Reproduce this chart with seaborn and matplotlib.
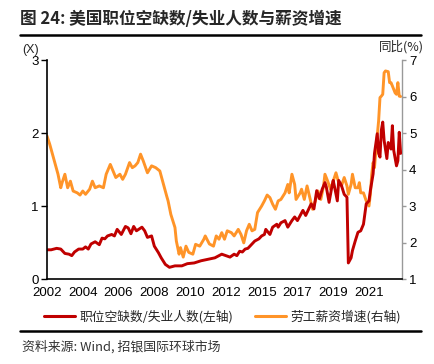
import numpy as np
import pandas as pd
import matplotlib
matplotlib.use('Agg')
import matplotlib.pyplot as plt
import seaborn as sns
from matplotlib.lines import Line2D

sns.set_style('white')
plt.rcParams['font.family'] = ['Liberation Sans', 'Noto Sans CJK SC', 'DejaVu Sans']

# months counted from Jan 2002
red_month = [0, 3, 7, 10, 13, 16, 18, 20, 23, 26, 28, 30, 32, 35, 38, 40, 42, 44, 47, 49,
             51, 54, 57, 59, 61, 63, 65, 69, 71, 73, 76, 78, 81, 83, 86, 89, 93, 98, 102, 107,
             112, 117, 122, 127, 130, 133, 136, 138, 140, 142, 144, 146, 149, 151, 154, 156, 158, 159, 162, 164,
             167, 168, 170, 173, 175, 178, 180, 182, 184, 186, 188, 192, 194, 196, 198, 200, 202, 203, 205, 207,
             208, 209, 211, 212, 214, 216, 218, 219, 221, 222, 224, 226, 228, 230, 231, 232, 234, 235, 237, 238,
             240, 241, 242, 243, 244, 245, 247, 248, 250, 251, 252, 254, 255, 256, 257]
red_value = [0.40, 0.40, 0.42, 0.41, 0.35, 0.34, 0.32, 0.37, 0.41, 0.41, 0.44, 0.41, 0.48, 0.51, 0.47, 0.56, 0.55, 0.59, 0.61, 0.59,
             0.68, 0.61, 0.72, 0.70, 0.62, 0.72, 0.66, 0.71, 0.66, 0.57, 0.59, 0.45, 0.36, 0.29, 0.20, 0.16, 0.18, 0.18, 0.21, 0.22,
             0.25, 0.27, 0.29, 0.34, 0.32, 0.30, 0.34, 0.32, 0.38, 0.37, 0.41, 0.42, 0.48, 0.52, 0.55, 0.59, 0.61, 0.68, 0.61, 0.71,
             0.75, 0.71, 0.77, 0.80, 0.71, 0.80, 0.85, 0.80, 0.87, 0.94, 0.87, 1.03, 0.96, 1.21, 1.10, 1.23, 1.32, 1.26, 1.05, 1.26,
             1.35, 1.26, 1.07, 1.35, 1.28, 1.16, 1.12, 0.22, 0.29, 0.39, 0.52, 0.64, 0.66, 0.75, 0.89, 1.03, 1.07, 1.21, 1.44, 1.72,
             1.99, 1.72, 1.67, 2.04, 2.15, 1.90, 1.65, 1.87, 1.78, 2.10, 1.76, 1.55, 1.62, 2.01, 1.72]

wage_month = [0, 2, 4, 6, 8, 10, 11, 13, 15, 17, 19, 22, 24, 26, 28, 31, 33, 35, 38, 41,
              43, 46, 48, 50, 53, 55, 57, 60, 62, 64, 66, 68, 70, 73, 76, 79, 82, 84, 87, 88,
              90, 93, 94, 96, 97, 99, 101, 103, 106, 108, 111, 114, 115, 118, 121, 123, 125, 127, 129, 131,
              134, 136, 139, 141, 143, 145, 147, 149, 151, 153, 156, 158, 160, 162, 164, 166, 168, 170, 173, 175,
              176, 178, 180, 181, 184, 185, 187, 189, 191, 193, 195, 197, 199, 201, 202, 204, 206, 208, 210, 212,
              214, 216, 218, 219, 221, 222, 224, 226, 227, 228, 230, 232, 234, 235, 236, 237, 238, 239, 241, 242,
              243, 244, 245, 246, 248, 249, 250, 251, 253, 254, 255, 256, 257]
wage_value = [4.92, 4.69, 4.42, 4.14, 3.87, 3.50, 3.64, 3.87, 3.50, 3.68, 3.41, 3.36, 3.30, 3.41, 3.32, 3.46, 3.68, 3.50, 3.55, 3.50,
              3.87, 4.14, 3.96, 3.78, 3.87, 3.73, 3.87, 4.19, 4.05, 4.10, 4.19, 4.42, 4.23, 3.91, 4.10, 4.05, 3.96, 3.68, 3.27, 3.14,
              2.77, 2.41, 2.04, 1.68, 1.86, 1.60, 1.90, 1.73, 1.68, 1.95, 1.90, 2.09, 2.18, 1.96, 1.90, 2.18, 2.09, 2.27, 2.09, 2.32,
              2.27, 2.18, 2.36, 2.22, 1.99, 2.32, 2.50, 2.32, 2.36, 2.82, 3.00, 3.14, 3.30, 3.23, 3.05, 2.91, 3.14, 3.18, 3.36, 3.59,
              3.36, 3.87, 3.59, 3.18, 3.36, 3.46, 3.18, 3.55, 3.23, 2.91, 3.14, 3.41, 3.18, 3.55, 3.87, 3.68, 3.46, 3.68, 3.91, 3.64,
              3.55, 3.78, 3.55, 3.32, 3.59, 3.87, 3.50, 3.50, 3.64, 3.36, 3.36, 3.14, 3.00, 3.32, 3.87, 4.19, 4.05, 4.51, 5.33, 5.97,
              6.01, 6.06, 6.65, 6.70, 6.68, 6.38, 6.38, 6.29, 6.10, 6.06, 6.38, 6.01, 6.00]

tick_month = [0, 26, 52, 78, 104, 130, 156, 182, 208, 234]
tick_label = ['2002', '2004', '2006', '2008', '2010', '2012', '2015', '2017', '2019', '2021']

red_name = '职位空缺数/失业人数(左轴)'
wage_name = '劳工薪资增速(右轴)'
RED = '#C00000'
ORANGE = '#FF9428'
CJK = ['Noto Sans CJK SC', 'DejaVu Sans']

red_df = pd.DataFrame({'month': red_month, 'value': red_value})
wage_df = pd.DataFrame({'month': wage_month, 'value': wage_value})

fig = plt.figure(figsize=(4.34, 3.64), dpi=100)
ax = fig.add_axes([47/434, 1-279/364, 355/434, 219/364])
ax2 = ax.twinx()

sns.lineplot(data=wage_df, x='month', y='value', ax=ax2, color=ORANGE, linewidth=2.1)
sns.lineplot(data=red_df, x='month', y='value', ax=ax, color=RED, linewidth=2.1)
ax.set_zorder(ax2.get_zorder() + 1)
ax.patch.set_visible(False)

ax.set_xlim(0, 258)
ax.set_ylim(0, 3)
ax2.set_ylim(1, 7)
ax.set_yticks([0, 1, 2, 3])
ax2.set_yticks(range(1, 8))
ax.set_xticks(tick_month)
ax.set_xticklabels(tick_label)
for a in (ax, ax2):
    a.set_xlabel('')
    a.set_ylabel('')
    a.grid(False)

ax.spines['top'].set_visible(False)
ax2.spines['top'].set_visible(False)
ax.spines['right'].set_visible(False)
ax2.spines['left'].set_visible(False)
ax2.spines['bottom'].set_visible(False)
ax.spines['left'].set_color('black')
ax.spines['bottom'].set_color('black')
ax.spines['left'].set_linewidth(1.2)
ax.spines['bottom'].set_linewidth(1.2)
ax2.spines['right'].set_color('#999999')
ax2.spines['right'].set_linewidth(1.0)

ax.tick_params(axis='both', direction='out', length=4, width=1, colors='black', labelsize=9.5, pad=2)
ax2.tick_params(axis='y', direction='out', length=3, width=1, colors='#999999', labelcolor='black', labelsize=9.5, pad=2)

fig.text(22/434, 1-50/364, '(X)', fontsize=9, va='center', ha='left')
fig.text(424/434, 1-47/364, '同比(%)', fontsize=9, va='center', ha='right',
         family=['Noto Sans CJK SC', 'Liberation Sans'])

fig.text(20/434, 1-19/364, '图 24: 美国职位空缺数/失业人数与薪资增速', fontsize=12, fontweight='bold',
         va='center', ha='left', family=CJK)
fig.add_artist(Line2D([20/434, 421/434], [1-35/364, 1-35/364], color='black', linewidth=1.8))
fig.add_artist(Line2D([20/434, 421/434], [1-331/364, 1-331/364], color='black', linewidth=1.8))

# legend: two separate entries placed like the reference
leg_prop = {'family': CJK, 'size': 9.2}
leg1 = fig.legend([Line2D([], [], color=RED, linewidth=2.2)], [red_name], loc='center left',
                  bbox_to_anchor=(44/434, 1-317/364), frameon=False, handlelength=2.4,
                  handletextpad=0.4, borderaxespad=0, borderpad=0, prop=leg_prop)
leg2 = fig.legend([Line2D([], [], color=ORANGE, linewidth=2.2)], [wage_name], loc='center left',
                  bbox_to_anchor=(255/434, 1-317/364), frameon=False, handlelength=2.4,
                  handletextpad=0.4, borderaxespad=0, borderpad=0, prop=leg_prop)

fig.text(22/434, 1-347/364, '资料来源: Wind, 招银国际环球市场', fontsize=9.3, va='center', ha='left',
         color='#333333', family=CJK)

fig.savefig('out.png', dpi=100)
